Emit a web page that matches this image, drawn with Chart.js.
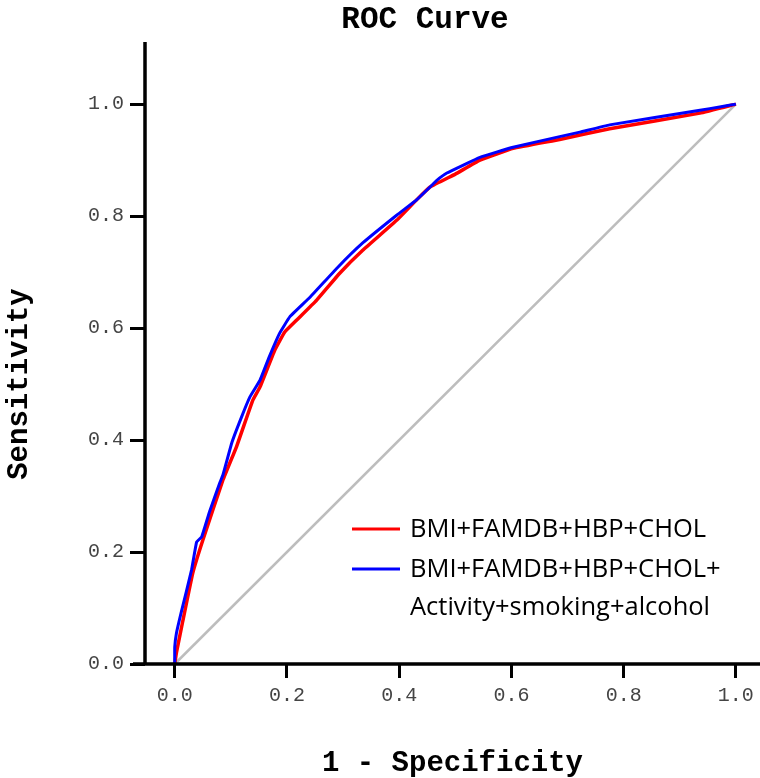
<!DOCTYPE html>
<html>
<head>
<meta charset="utf-8">
<script src="https://cdn.jsdelivr.net/npm/chart.js@4/dist/chart.umd.min.js"></script>
<style>
	html, body { margin: 0; padding: 0; background: #fff; }
	#wrap { width: 760px; height: 778px; position: relative; }
</style>
</head>
<body>
<div id="wrap"><canvas id="rocChart"></canvas></div>
<script>
// ROC curve values
var redX = [0, 0.003, 0.014, 0.032, 0.05, 0.086, 0.11, 0.139, 0.152, 0.178, 0.196, 0.217, 0.253, 0.294, 0.335, 0.396, 0.431, 0.455, 0.5, 0.544, 0.603, 0.686, 0.775, 0.936, 1.0];
var redY = [0, 0.02, 0.075, 0.162, 0.221, 0.329, 0.388, 0.471, 0.495, 0.56, 0.593, 0.614, 0.65, 0.698, 0.739, 0.793, 0.829, 0.852, 0.875, 0.9, 0.921, 0.937, 0.956, 0.984, 1.0];

var blueX = [0, 0, 0.003, 0.011, 0.03, 0.039, 0.048, 0.062, 0.08, 0.086, 0.102, 0.119, 0.134, 0.152, 0.169, 0.187, 0.205, 0.241, 0.289, 0.335, 0.396, 0.431, 0.455, 0.467, 0.485, 0.544, 0.603, 0.686, 0.722, 0.775, 0.936, 0.971, 1.0];
var blueY = [0, 0.03, 0.055, 0.09, 0.168, 0.218, 0.227, 0.272, 0.323, 0.338, 0.396, 0.441, 0.477, 0.507, 0.55, 0.591, 0.62, 0.655, 0.707, 0.752, 0.802, 0.829, 0.852, 0.864, 0.877, 0.905, 0.923, 0.942, 0.95, 0.963, 0.989, 0.995, 1.0];

var refX = [0, 1];
var refY = [0, 1];

var xTicks = [0, 0.2, 0.4, 0.6, 0.8, 1.0];
var yTicks = [0, 0.2, 0.4, 0.6, 0.8, 1.0];

var seriesLabels = ["BMI+FAMDB+HBP+CHOL", "BMI+FAMDB+HBP+CHOL+\nActivity+smoking+alcohol"];
var seriesColors = ["#ff0000", "#0000ff"];

function toPoints(xs, ys) {
	var pts = [];
	for (var i = 0; i < xs.length; i++) pts.push({x: xs[i], y: ys[i]});
	return pts;
}

var monoFont = "'Liberation Mono', 'Courier New', monospace";

// axis lines, titles and legend
var decorPlugin = {
	id: 'decor',
	afterDraw: function (chart) {
		var ctx = chart.ctx, area = chart.chartArea;
		var ys = chart.scales.y;
		var zeroY = ys.getPixelForValue(0);
		ctx.save();
		ctx.strokeStyle = '#000';
		ctx.lineWidth = 3.5;
		ctx.beginPath();
		ctx.moveTo(area.left, area.top);
		ctx.lineTo(area.left, zeroY);
		ctx.moveTo(area.left - 12, zeroY);
		ctx.lineTo(area.right, zeroY);
		ctx.stroke();

		ctx.fillStyle = '#000';
		ctx.textAlign = 'center';
		ctx.textBaseline = 'middle';
		ctx.font = "bold 31px " + monoFont;
		ctx.fillText("ROC Curve", 425, 20);
		ctx.font = "bold 29px " + monoFont;
		ctx.fillText("1 - Specificity", (area.left + area.right) / 2, 764);
		ctx.translate(20, (zeroY + ys.getPixelForValue(1)) / 2);
		ctx.rotate(-Math.PI / 2);
		ctx.fillText("Sensitivity", 0, 0);
		ctx.restore();

		// legend
		ctx.save();
		ctx.font = "25.5px 'Open Sans', sans-serif";
		ctx.textAlign = 'left';
		ctx.textBaseline = 'middle';
		ctx.fillStyle = '#000';
		var lx = 352, ly = 529;
		var rows = [ly, ly + 40];
		for (var i = 0; i < seriesLabels.length; i++) {
			ctx.strokeStyle = seriesColors[i];
			ctx.lineWidth = 3;
			ctx.beginPath();
			ctx.moveTo(lx, rows[i]);
			ctx.lineTo(lx + 48, rows[i]);
			ctx.stroke();
			var parts = seriesLabels[i].split("\n");
			for (var j = 0; j < parts.length; j++) {
				ctx.fillText(parts[j], lx + 58, rows[i] + 1 + j * 38);
			}
		}
		ctx.restore();
	}
};

var ctx = document.getElementById("rocChart").getContext("2d");
var rocChart = new Chart(ctx, {
	type: 'line',
	data: {
		datasets: [
			{ label: seriesLabels[1], data: toPoints(blueX, blueY), borderColor: seriesColors[1], borderWidth: 3, pointRadius: 0, tension: 0.1, clip: false, order: 0 },
			{ label: seriesLabels[0], data: toPoints(redX, redY), borderColor: seriesColors[0], borderWidth: 3.5, pointRadius: 0, tension: 0.1, clip: false, order: 1 },
			{ label: 'ref', data: toPoints(refX, refY), borderColor: '#bdbdbd', borderWidth: 2.5, pointRadius: 0, clip: false, order: 2 }
		]
	},
	options: {
		responsive: true,
		maintainAspectRatio: false,
		animation: false,
		layout: { padding: { top: 42, right: 0, left: 0, bottom: 0 } },
		plugins: { legend: { display: false }, tooltip: { enabled: false }, title: { display: false } },
		scales: {
			x: {
				type: 'linear', min: -0.053, max: 1.043,
				afterBuildTicks: function (s) { s.ticks = xTicks.map(function (v) { return {value: v}; }); },
				afterFit: function (s) { s.height = 114; },
				border: { display: false },
				grid: { drawOnChartArea: false, tickLength: 14, color: '#000', lineWidth: 3 },
				ticks: { padding: 6, color: '#444', font: { family: monoFont, size: 20 }, maxRotation: 0,
					callback: function (v) { return v.toFixed(1); } }
			},
			y: {
				type: 'linear', min: 0, max: 1.111,
				afterBuildTicks: function (s) { s.ticks = yTicks.map(function (v) { return {value: v}; }); },
				afterFit: function (s) { s.width = 145; },
				border: { display: false },
				grid: { drawOnChartArea: false, tickLength: 15, color: '#000', lineWidth: 3 },
				ticks: { padding: 6, color: '#444', font: { family: monoFont, size: 20 },
					callback: function (v) { return v.toFixed(1); } }
			}
		}
	},
	plugins: [decorPlugin]
});
</script>
</body>
</html>
